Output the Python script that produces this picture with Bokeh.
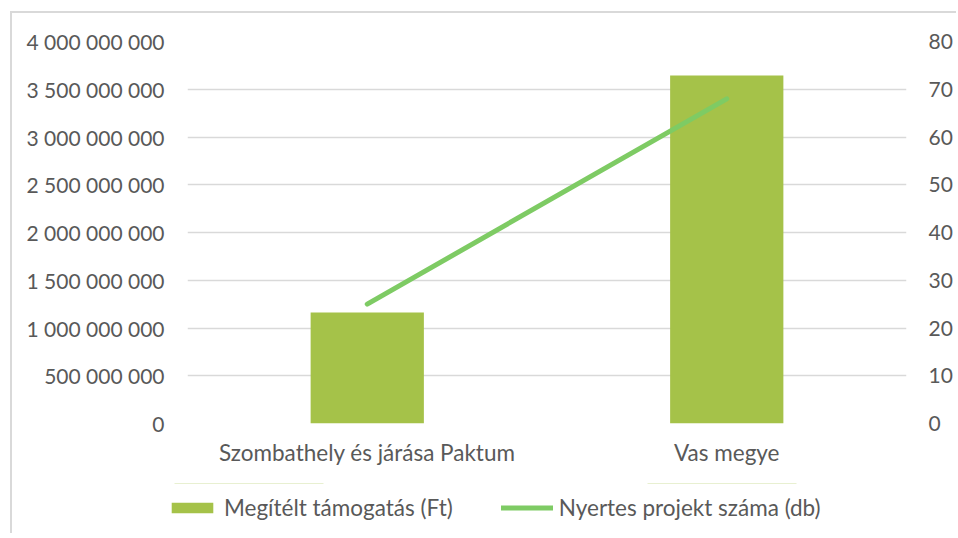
from bokeh.plotting import figure
from bokeh.models import (FactorRange, Range1d, LinearAxis, FixedTicker, Legend,
                          LegendItem)
from bokeh.embed import file_html
from bokeh.resources import INLINE

categories = ["Szombathely és járása Paktum", "Vas megye"]
funding_ft = [1162000000, 3644000000]
projects_db = [25, 68]
left_ticks = [0, 500000000, 1000000000, 1500000000, 2000000000,
              2500000000, 3000000000, 3500000000, 4000000000]
left_tick_labels = ["0", "500 000 000", "1 000 000 000", "1 500 000 000",
                    "2 000 000 000", "2 500 000 000", "3 000 000 000",
                    "3 500 000 000", "4 000 000 000"]
right_ticks = [0, 10, 20, 30, 40, 50, 60, 70, 80]
series_names = ["Megítélt támogatás (Ft)", "Nyertes projekt száma (db)"]

FONT = "Lato"
TXT = "#595959"
FS = "21px"
FS_CAT = "22.5px"
BAR_COLOR = "#A5C249"
LINE_COLOR = "#7ECB64"
BORDER = "2px solid #D9D9D9"

p = figure(width=946, height=472, x_range=FactorRange(*categories, range_padding=0),
           y_range=Range1d(0, 4000000000), output_backend="svg", toolbar_location=None,
           min_border_left=175, min_border_right=52, min_border_top=28, min_border_bottom=62,
           margin=(11, 0, 0, 10), styles={"border-left": BORDER, "border-top": BORDER})
p.extra_y_ranges = {"cnt": Range1d(0, 80)}
p.outline_line_color = None
p.background_fill_color = "white"
p.border_fill_color = "white"

bars = p.vbar(x=categories, top=funding_ft, width=0.315, fill_color=BAR_COLOR,
              line_color=None)
line = p.line(x=categories, y=projects_db, y_range_name="cnt", line_width=5,
              line_color=LINE_COLOR, line_cap="round")

p.xgrid.visible = False
p.ygrid.ticker = FixedTicker(ticks=left_ticks)
p.ygrid.grid_line_color = "#D9D9D9"
p.ygrid.grid_line_width = 1.5

def style_axis(ax, standoff, fs=FS):
    ax.axis_line_color = None
    ax.major_tick_line_color = None
    ax.minor_tick_line_color = None
    ax.major_tick_out = 0
    ax.major_tick_in = 0
    ax.major_label_text_font = FONT
    ax.major_label_text_font_size = fs
    ax.major_label_text_color = TXT
    ax.major_label_standoff = standoff

ly = p.yaxis[0]
ly.ticker = FixedTicker(ticks=left_ticks)
ly.major_label_overrides = {t: l for t, l in zip(left_ticks, left_tick_labels)}
style_axis(ly, 23)

ry = LinearAxis(y_range_name="cnt", ticker=FixedTicker(ticks=right_ticks))
style_axis(ry, 22)
p.add_layout(ry, "right")

style_axis(p.xaxis[0], 15, FS_CAT)

# legend strip: same series drawn out of view, only their legend glyphs show
lf = figure(width=946, height=50, x_range=FactorRange(*categories),
            y_range=Range1d(-2, -1), output_backend="svg", toolbar_location=None,
            x_axis_type=None, y_axis_type=None, min_border=0,
            margin=(0, 0, 0, 10), styles={"border-left": BORDER})
lf.outline_line_color = None
lf.xgrid.visible = False
lf.ygrid.visible = False
lf.background_fill_color = "white"
lf.border_fill_color = "white"
lbar = lf.vbar(x=categories, top=funding_ft, width=0.315, fill_color=BAR_COLOR,
               line_color=None)
lline = lf.line(x=categories, y=projects_db, line_width=5, line_color=LINE_COLOR,
                line_cap="round")

legend = Legend(items=[LegendItem(label=series_names[0], renderers=[lbar]),
                       LegendItem(label=series_names[1], renderers=[lline])],
                orientation="horizontal", location=(154, 12))
legend.border_line_color = None
legend.background_fill_alpha = 0
legend.padding = 0
legend.margin = 0
legend.spacing = 48
legend.glyph_width = 52
legend.glyph_height = 13
legend.label_standoff = 6
legend.label_text_font = FONT
legend.label_text_font_size = FS_CAT
legend.label_text_color = TXT
lf.add_layout(legend, "center")

open("out.html", "w").write(file_html([p, lf], INLINE))
